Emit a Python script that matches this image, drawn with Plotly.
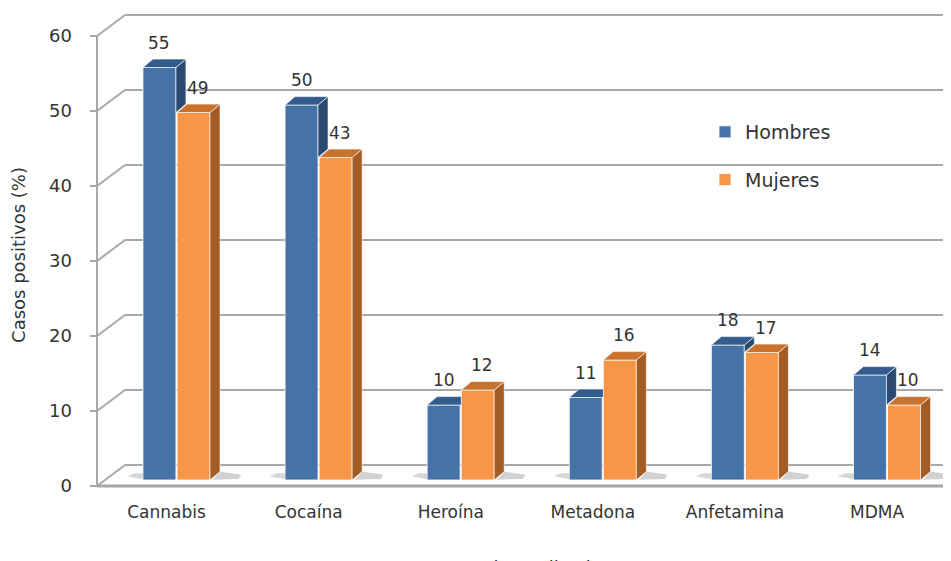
import plotly.graph_objects as go

# ---------------- data ----------------
categories = ["Cannabis", "Cocaína", "Heroína", "Metadona", "Anfetamina", "MDMA"]
hombres = [55, 50, 10, 11, 18, 14]
mujeres = [49, 43, 12, 16, 17, 10]
y_ticks = [0, 10, 20, 30, 40, 50, 60]

# ---------------- style / geometry (figure pixels) ----------------
W, H = 951, 561
PL, PR, PT, PB = 82, 951, 2, 492          # plot area pixels
PX_X = 142.1                               # px per category
PX_Y = 7.5                                 # px per percent
X0_PX = 168.5                              # pixel of category 0 centre
FRONT0_PX = 478                            # pixel of front y=0
BAR0_PX = 472                              # pixel of bar base
AXIS_PX = 89                               # front axis pixel
BACK_PX = 117                              # back wall left pixel
WALL_DY_PX = 21

xr = [(PL - X0_PX) / PX_X, (PR - X0_PX) / PX_X]
yr = [-(PB - FRONT0_PX) / PX_Y, (FRONT0_PX - PT) / PX_Y]
y2r = [-(PB - BAR0_PX) / PX_Y, (BAR0_PX - PT) / PX_Y]

ax_x = (AXIS_PX - X0_PX) / PX_X
wall_dx = (BACK_PX - AXIS_PX) / PX_X
wall_dy = WALL_DY_PX / PX_Y

HALF = 0.12
BW = 0.232
DX = 10 / PX_X
DY = 8.4 / PX_Y

BLUE = "#4572A7"
BLUE_TOP = "#335C8E"
BLUE_SIDE = "#2B4A70"
ORANGE = "#F79646"
ORANGE_TOP = "#C9722E"
ORANGE_SIDE = "#A35C24"
GRID = "#A8A8A8"
TXT = "#333333"
FONT = "DejaVu Sans"

fig = go.Figure()

xb = [i - HALF for i in range(len(categories))]
xo = [i + HALF for i in range(len(categories))]

fig.add_trace(go.Bar(x=xb, y=hombres, width=BW, name="Hombres", yaxis="y2",
                     marker=dict(color=BLUE, line=dict(color="rgba(255,255,255,0.8)", width=1)),
                     legendgroup="h"))
fig.add_trace(go.Bar(x=xo, y=mujeres, width=BW, name="Mujeres", yaxis="y2",
                     marker=dict(color=ORANGE, line=dict(color="rgba(255,255,255,0.8)", width=1)),
                     legendgroup="m"))


def poly(xs, ys, color, edge="rgba(255,255,255,0.6)"):
    fig.add_trace(go.Scatter(x=xs + [xs[0]], y=ys + [ys[0]], mode="lines", fill="toself",
                             fillcolor=color, line=dict(color=edge, width=1),
                             yaxis="y2", showlegend=False, hoverinfo="skip"))


for i in range(len(categories)):
    hv, mv = hombres[i], mujeres[i]
    bx0, bx1 = xb[i] - BW / 2, xb[i] + BW / 2
    ox0, ox1 = xo[i] - BW / 2, xo[i] + BW / 2
    # floor shadows
    poly([bx0 - 0.11, bx0, bx0, bx0 - 0.06], [0.5, 0.1, 0.9, 0.9], "rgba(0,0,0,0.16)", "rgba(0,0,0,0)")
    poly([ox1 + DX, ox1 + 0.22, ox1 + 0.2, ox1 + 0.02], [DY, 0.7, 0.15, 0.05], "rgba(0,0,0,0.18)", "rgba(0,0,0,0)")
    # blue side (only part above orange front)
    if hv > mv:
        poly([bx1, bx1, bx1 + DX, bx1 + DX], [mv, hv, hv + DY, mv + DY], BLUE_SIDE)
        poly([bx0, bx1, bx1 + DX, bx0 + DX], [hv, hv, hv + DY, hv + DY], BLUE_TOP)
    else:
        poly([bx0, ox0, ox0, bx0 + DX], [hv, hv, hv + DY, hv + DY], BLUE_TOP)
    # orange side + top
    poly([ox1, ox1, ox1 + DX, ox1 + DX], [0, mv, mv + DY, DY], ORANGE_SIDE)
    poly([ox0, ox1, ox1 + DX, ox0 + DX], [mv, mv, mv + DY, mv + DY], ORANGE_TOP)

# value labels
annotations = []
for i in range(len(categories)):
    annotations.append(dict(x=xb[i] + 0.0, y=hombres[i], xref="x", yref="y2", text=str(hombres[i]),
                            showarrow=False, yshift=25, font=dict(family=FONT, size=17, color=TXT)))
    annotations.append(dict(x=xo[i] + 0.03, y=mujeres[i], xref="x", yref="y2", text=str(mujeres[i]),
                            showarrow=False, yshift=25, font=dict(family=FONT, size=17, color=TXT)))

# x-axis title (mostly cut off at the bottom, as in the reference)
annotations.append(dict(x=(504 - PL) / (PR - PL), y=(PB - 547) / (PB - PT), xref="paper", yref="paper",
                        text="Sustancia analizada", showarrow=False, yanchor="top",
                        font=dict(family=FONT, size=18, color=TXT)))

# walls, gridlines, floor
shapes = []
for v in y_ticks:
    shapes.append(dict(type="line", xref="x", yref="y", x0=ax_x, y0=v, x1=ax_x + wall_dx, y1=v + wall_dy,
                       line=dict(color=GRID, width=2), layer="below"))
    shapes.append(dict(type="line", xref="x", yref="y", x0=ax_x + wall_dx, y0=v + wall_dy, x1=xr[1] + 1,
                       y1=v + wall_dy, line=dict(color=GRID, width=2), layer="below"))
shapes.append(dict(type="line", xref="x", yref="y", x0=ax_x, y0=0, x1=ax_x, y1=y_ticks[-1],
                   line=dict(color=GRID, width=2), layer="below"))
fig.update_layout(shapes=shapes)
fig.add_shape(type="line", xref="x", yref="y", x0=ax_x, y0=0, x1=(938 - X0_PX) / PX_X, y1=0,
              line=dict(color="#A6A6A6", width=3), layer="above")
fig.add_shape(type="line", xref="x", yref="y", x0=(938 - X0_PX) / PX_X, y0=0, x1=xr[1], y1=0.6,
              line=dict(color="#A6A6A6", width=2), layer="above")

fig.update_layout(
    width=W, height=H,
    margin=dict(l=PL, r=W - PR, t=PT, b=H - PB),
    paper_bgcolor="white", plot_bgcolor="white",
    barmode="overlay",
    font=dict(family=FONT, size=18, color=TXT),
    xaxis=dict(range=xr, tickmode="array", tickvals=[i - 0.07 for i in range(len(categories))],
               ticktext=categories, showgrid=False, zeroline=False, showline=False, ticks="",
               tickfont=dict(size=17, color=TXT), fixedrange=True),
    yaxis=dict(range=yr, tickmode="array", tickvals=y_ticks, showgrid=False, zeroline=False,
               showline=False, ticks="inside", ticklen=7, tickwidth=2, tickcolor=GRID,
               ticklabelstandoff=17, tickfont=dict(size=18, color=TXT),
               title=dict(text="Casos positivos (%)", font=dict(size=18, color=TXT), standoff=18)),
    yaxis2=dict(range=y2r, overlaying="y", visible=False),
    legend=dict(x=(697 - PL) / (PR - PL), y=(PB - 105) / (PB - PT), xanchor="left", yanchor="top",
                font=dict(size=19, color=TXT), tracegroupgap=20, bgcolor="rgba(0,0,0,0)",
                traceorder="grouped"),
    annotations=annotations,
    showlegend=True,
)

fig.write_html("out.html")
